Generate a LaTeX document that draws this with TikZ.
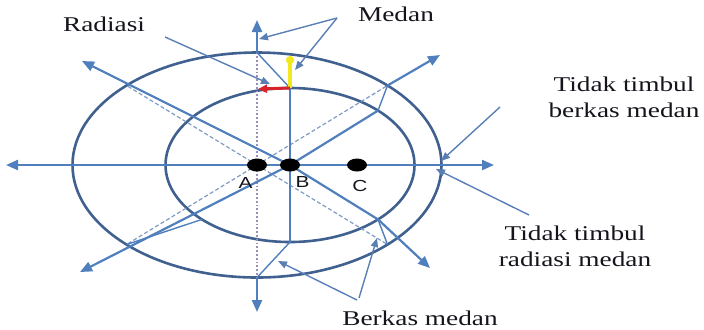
\documentclass[tikz,border=0pt]{standalone}
\usepackage{fontspec}
\setmainfont{Liberation Serif}
\newfontfamily\pointfont{Liberation Sans}
\usepackage{graphicx}
\usetikzlibrary{arrows.meta,shapes.geometric}
\definecolor{fieldblue}{HTML}{4F7FBC}
\definecolor{ringblue}{HTML}{40608F}
\definecolor{pointblue}{HTML}{5A7FB5}
\definecolor{dashblue}{HTML}{7F9AC4}
\definecolor{dotgray}{HTML}{9A8FB8}
\definecolor{labelink}{HTML}{14141C}
\definecolor{kickyellow}{HTML}{F2E81E}
\definecolor{kickred}{HTML}{D8232A}
\newcommand{\wide}[1]{\scalebox{1.3}[1]{#1}}

\begin{document}
\begin{tikzpicture}[x=0.5pt, y=-0.5pt, font=\fontsize{10.5}{13}\selectfont]
  \tikzset{ring/.style={draw=ringblue, line width=1.3pt},
    field/.style={draw=fieldblue, line width=1.1pt},
    fieldarrow/.style={field, -{Triangle[length=6pt,width=5pt]}},
    kink/.style={draw=fieldblue, line width=0.7pt},
    oldfield/.style={draw=dashblue, line width=0.6pt, dash pattern=on 2pt off 1.2pt},
    pointer/.style={draw=pointblue, line width=0.7pt, -{Triangle[length=4.5pt,width=3.6pt]}},
    charge/.style={ellipse, fill=black, inner sep=0pt, minimum width=10pt, minimum height=6.5pt},
    caption/.style={text=labelink, inner sep=0pt},
    tag/.style={text=labelink, inner sep=0pt, font=\pointfont\fontsize{8}{9}\selectfont}}
  \useasboundingbox (0,0) rectangle (704,329);

  \coordinate (A0) at (257,165);
  \coordinate (B0) at (290,165);
  \coordinate (tipN) at (257,20);
  \coordinate (tipS) at (257,312);
  \coordinate (tipW) at (6,165);
  \coordinate (tipE) at (494,165);
  \coordinate (outN) at (257,52.5);
  \coordinate (outS) at (257,277.5);
  \coordinate (inN) at (290,88);
  \coordinate (inS) at (290,242);
  \coordinate (outNW) at (126.5,85.5);
  \coordinate (tipNW) at (82,61);
  \coordinate (outNE) at (387.5,85.5);
  \coordinate (inNE) at (378,110.6);
  \coordinate (tipNE) at (440,55);
  \coordinate (outSW) at (126.5,244.5);
  \coordinate (inSW) at (202,219.4);
  \coordinate (tipSW) at (80,272);
  \coordinate (outSE) at (387.5,244.5);
  \coordinate (inSE) at (378,219.4);
  \coordinate (tipSE) at (430,268);
  \coordinate (kickY) at (290,56);
  \coordinate (kickR) at (258,89);

  \draw[ring] (A0) ellipse [x radius=92.25pt, y radius=56.25pt];
  \draw[ring] (B0) ellipse [x radius=62.25pt, y radius=38.5pt];

  \draw[oldfield] (A0) -- (outNW);
  \draw[oldfield] (A0) -- (outNE);
  \draw[oldfield] (A0) -- (outSW);
  \draw[oldfield] (A0) -- (outSE);
  \draw[dotgray, line width=0.9pt, densely dotted] (outN) -- (outS);

  \draw[field, {Triangle[length=6pt,width=5pt]}-{Triangle[length=6pt,width=5pt]}] (tipW) -- (tipE);
  \draw[fieldarrow] (outN) -- (tipN);
  \draw[fieldarrow] (outS) -- (tipS);
  \draw[field] (B0) -- (inN);
  \draw[field] (B0) -- (inS);
  \draw[kink] (inN) -- (outN);
  \draw[kink] (inS) -- (outS);

  \draw[fieldarrow] (B0) -- (tipNW);
  \draw[field] (B0) -- (inNE);
  \draw[kink] (inNE) -- (outNE);
  \draw[fieldarrow] (outNE) -- (tipNE);
  \draw[fieldarrow] (B0) -- (tipSW);
  \draw[kink] (inSW) -- (outSW);
  \draw[field] (B0) -- (inSE);
  \draw[fieldarrow] (inSE) -- (tipSE);
  \draw[kink] (inSE) -- (outSE);

  \draw[kickyellow, line width=1.6pt, -{Circle[length=4pt]}] (inN) -- (kickY);
  \draw[kickred, line width=1.5pt, -{Triangle[length=4.5pt,width=4pt]}] (inN) -- (kickR);

  \node[charge] (A) at (A0) {};
  \node[charge] (B) at (B0) {};
  \node[charge] (C) at (357,165) {};
  \node[tag] (tagA) at (245.5,183) {\scalebox{1.3}[1]{A}};
  \node[tag] (tagB) at (302.5,182) {\scalebox{1.3}[1]{B}};
  \node[tag] (tagC) at (360,185.5) {\scalebox{1.3}[1]{C}};

  \node[caption, anchor=base] (radlabel) at (104,31) {\wide{Radiasi}};
  \node[caption, anchor=base] (medlabel) at (396,21) {\wide{Medan}};
  \node[caption] (nobeam) at (624,99) {\wide{\begin{tabular}{@{}c@{}}Tidak timbul\\berkas medan\end{tabular}}};
  \node[caption] (norad) at (575,248) {\wide{\begin{tabular}{@{}c@{}}Tidak timbul\\radiasi medan\end{tabular}}};
  \node[caption, anchor=base] (beamlabel) at (420,325) {\wide{Berkas medan}};

  \coordinate (radtail) at (165,37);
  \coordinate (radhead) at (270,84);
  \coordinate (medtail) at (337,18);
  \coordinate (medheadA) at (259,39);
  \coordinate (medheadB) at (295,70);
  \coordinate (nobeamtail) at (500,107);
  \coordinate (nobeamhead) at (441,161);
  \coordinate (noradtail) at (529,215);
  \coordinate (noradhead) at (436,169);
  \coordinate (beamtailA) at (357,300);
  \coordinate (beamheadA) at (278,261);
  \coordinate (beamtailB) at (359,298);
  \coordinate (beamheadB) at (377,238);

  \draw[pointer] (radtail) -- (radhead);
  \draw[pointer] (medtail) -- (medheadA);
  \draw[pointer] (medtail) -- (medheadB);
  \draw[pointer] (nobeamtail) -- (nobeamhead);
  \draw[pointer] (noradtail) -- (noradhead);
  \draw[pointer] (beamtailA) -- (beamheadA);
  \draw[pointer] (beamtailB) -- (beamheadB);
\end{tikzpicture}
\end{document}
